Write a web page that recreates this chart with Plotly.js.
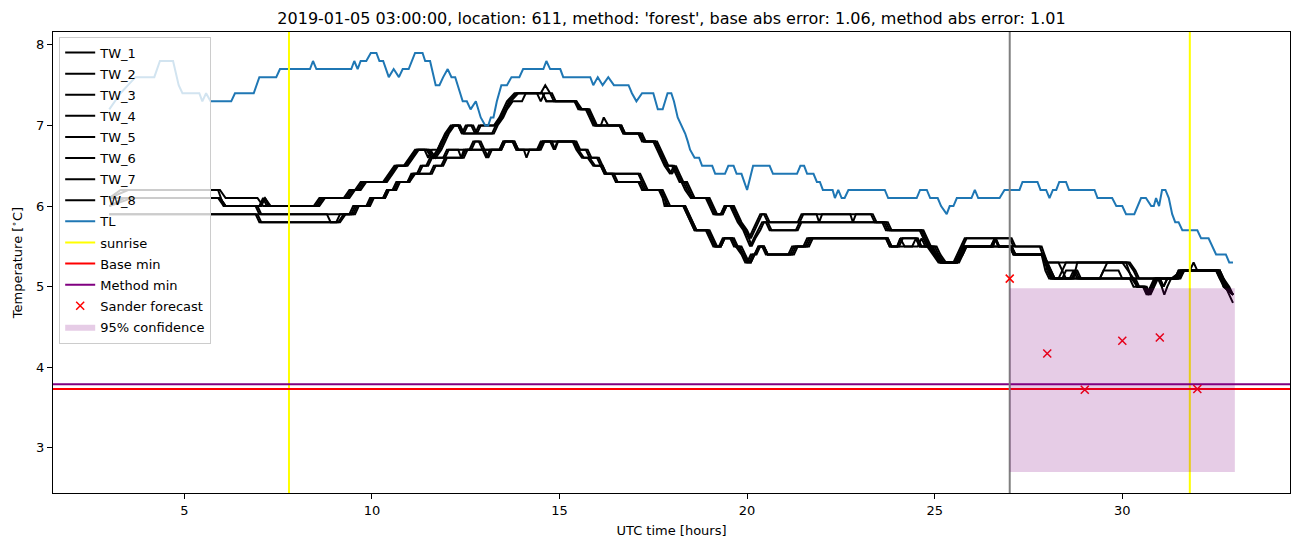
<!DOCTYPE html>
<html><head><meta charset="utf-8">
<script src="https://cdn.plot.ly/plotly-3.0.1.min.js"></script>
<style>html,body{margin:0;padding:0;background:#fff}#chart{width:1302px;height:547px}</style>
</head><body><div id="chart"></div>
<script>
// ---- data (hours UTC, temperature °C) ----
const TW_1 = [[3.0,6.1],[3.3,6.2],[5.95,6.2],[6.1,6.1],[6.95,6.1],[7.1,6.0],[8.45,6.0],[8.6,6.1],[9.25,6.1],[9.4,6.2],[9.55,6.2],[9.7,6.3],[10.3,6.3],[10.45,6.4],[10.6,6.5],[10.85,6.5],[11.0,6.6],[11.15,6.7],[11.45,6.7],[11.6,6.6],[11.75,6.7],[11.85,6.8],[11.95,6.9],[12.1,7.0],[12.3,7.0],[12.4,6.9],[12.5,7.0],[12.65,7.0],[12.75,6.9],[12.85,7.0],[13.25,7.0],[13.4,7.1],[13.5,7.2],[13.6,7.3],[13.8,7.4],[14.5,7.4],[14.62,7.5],[14.75,7.4],[14.85,7.3],[15.4,7.3],[15.55,7.2],[15.75,7.2],[15.85,7.1],[15.95,7.0],[16.1,7.0],[16.18,7.1],[16.3,7.0],[16.6,7.0],[16.7,6.9],[17.1,6.9],[17.2,6.8],[17.5,6.8],[17.6,6.7],[17.7,6.6],[17.8,6.5],[17.95,6.4],[18.05,6.5],[18.15,6.4],[18.25,6.3],[18.35,6.2],[18.5,6.1],[18.9,6.1],[19.0,6.0],[19.1,5.9],[19.3,5.9],[19.4,6.0],[19.6,6.0],[19.7,5.9],[19.8,5.8],[19.95,5.7],[20.05,5.6],[20.15,5.7],[20.25,5.8],[20.35,5.9],[20.45,5.9],[20.55,5.8],[21.35,5.8],[21.45,5.9],[21.85,5.9],[21.92,5.8],[22.0,5.9],[22.75,5.9],[22.82,5.8],[22.9,5.9],[23.35,5.9],[23.45,5.8],[23.7,5.8],[23.8,5.7],[24.65,5.7],[24.75,5.6],[24.85,5.5],[25.0,5.4],[25.15,5.3],[25.5,5.3],[25.6,5.4],[25.7,5.5],[25.8,5.6],[27.0,5.6],[27.1,5.5],[27.8,5.5],[27.95,5.3],[30.2,5.3],[30.35,5.2],[30.45,5.1],[30.95,5.1],[31.05,5.0],[31.12,4.9],[31.2,5.0],[31.3,5.1],[31.6,5.2],[31.8,5.2],[31.9,5.3],[32.0,5.2],[32.5,5.2],[32.6,5.1],[32.75,5.0],[32.95,4.8]];
const TW_2 = [[3.0,6.1],[3.5,6.2],[5.9,6.2],[6.05,6.0],[7.0,6.0],[7.15,6.1],[7.3,6.0],[8.5,6.0],[8.65,6.1],[9.3,6.1],[9.45,6.2],[9.6,6.2],[9.75,6.3],[10.35,6.3],[10.5,6.4],[10.65,6.5],[10.9,6.5],[11.05,6.6],[11.2,6.7],[11.4,6.7],[11.5,6.6],[11.6,6.7],[11.75,6.7],[11.85,6.8],[12.0,6.9],[12.15,7.0],[12.35,7.0],[12.45,6.9],[12.55,7.0],[12.7,7.0],[12.8,6.9],[12.9,7.0],[13.3,7.0],[13.45,7.1],[13.55,7.2],[13.65,7.3],[13.85,7.4],[14.4,7.4],[14.5,7.3],[14.6,7.4],[14.8,7.4],[14.9,7.3],[15.45,7.3],[15.6,7.2],[15.8,7.2],[15.9,7.1],[16.0,7.0],[16.65,7.0],[16.75,6.9],[17.15,6.9],[17.25,6.8],[17.55,6.8],[17.65,6.7],[17.75,6.6],[17.85,6.5],[18.0,6.4],[18.1,6.5],[18.2,6.4],[18.3,6.3],[18.4,6.2],[18.55,6.1],[18.95,6.1],[19.05,6.0],[19.15,5.9],[19.35,5.9],[19.45,6.0],[19.65,6.0],[19.75,5.9],[19.85,5.8],[20.0,5.7],[20.1,5.6],[20.2,5.7],[20.3,5.8],[20.4,5.9],[20.5,5.9],[20.6,5.8],[21.4,5.8],[21.5,5.9],[23.3,5.9],[23.4,5.8],[23.75,5.8],[23.85,5.7],[24.7,5.7],[24.8,5.6],[24.9,5.5],[25.05,5.4],[25.2,5.3],[25.55,5.3],[25.65,5.4],[25.75,5.5],[25.85,5.6],[27.05,5.6],[27.15,5.5],[27.85,5.5],[28.0,5.3],[28.3,5.3],[28.4,5.2],[28.5,5.1],[28.7,5.1],[28.8,5.3],[30.15,5.3],[30.3,5.2],[30.4,5.1],[31.0,5.1],[31.1,5.0],[31.2,5.1],[31.55,5.1],[31.65,5.2],[32.55,5.2],[32.65,5.1],[32.8,5.0],[32.95,4.9]];
const TW_3 = [[3.0,6.1],[5.95,6.1],[6.1,6.0],[7.0,6.0],[7.1,6.1],[7.2,6.0],[8.55,6.0],[8.7,6.1],[9.35,6.1],[9.5,6.2],[9.65,6.2],[9.8,6.3],[10.35,6.3],[10.5,6.4],[10.65,6.5],[10.9,6.5],[11.05,6.6],[11.2,6.7],[11.5,6.7],[11.65,6.6],[11.8,6.7],[11.9,6.8],[12.0,6.9],[12.15,7.0],[12.35,7.0],[12.45,6.9],[13.2,6.9],[13.3,7.0],[13.45,7.1],[13.55,7.2],[13.7,7.3],[13.9,7.4],[14.55,7.4],[14.65,7.3],[15.4,7.3],[15.5,7.2],[15.7,7.2],[15.8,7.1],[15.9,7.0],[16.6,7.0],[16.7,6.9],[17.15,6.9],[17.25,6.8],[17.55,6.8],[17.65,6.7],[17.75,6.6],[17.85,6.5],[18.0,6.5],[18.1,6.4],[18.2,6.3],[18.35,6.3],[18.45,6.2],[18.55,6.1],[18.95,6.1],[19.05,6.0],[19.15,5.9],[19.3,5.9],[19.4,6.0],[19.55,6.0],[19.65,5.9],[19.75,5.8],[19.9,5.7],[20.0,5.6],[20.08,5.5],[20.18,5.6],[20.3,5.7],[20.4,5.8],[20.5,5.8],[20.6,5.7],[21.3,5.7],[21.4,5.8],[23.6,5.8],[23.7,5.7],[24.6,5.7],[24.7,5.6],[24.8,5.5],[24.95,5.4],[25.1,5.3],[25.55,5.3],[25.65,5.4],[25.75,5.5],[26.5,5.5],[26.6,5.6],[26.7,5.5],[27.0,5.5],[27.1,5.4],[27.85,5.4],[27.95,5.3],[28.05,5.2],[28.15,5.1],[28.3,5.1],[28.4,5.2],[28.5,5.3],[30.0,5.3],[30.15,5.2],[30.3,5.1],[31.0,5.1],[31.1,5.0],[31.2,5.1],[31.5,5.1],[31.65,5.2],[32.6,5.2],[32.7,5.1],[32.85,5.0],[32.95,4.9]];
const TW_4 = [[3.0,6.0],[3.4,6.1],[5.95,6.1],[6.1,6.0],[7.05,6.0],[7.15,6.1],[7.25,6.0],[8.6,6.0],[8.75,6.1],[9.4,6.1],[9.55,6.2],[9.7,6.2],[9.85,6.3],[10.4,6.3],[10.55,6.4],[10.7,6.5],[10.95,6.5],[11.1,6.6],[11.25,6.7],[11.55,6.7],[11.7,6.6],[11.85,6.7],[11.95,6.8],[12.05,6.9],[12.2,7.0],[12.3,7.0],[12.4,6.9],[13.25,6.9],[13.35,7.0],[13.5,7.1],[13.6,7.2],[13.75,7.3],[14.0,7.3],[14.1,7.4],[14.55,7.4],[14.65,7.3],[15.45,7.3],[15.55,7.2],[15.75,7.2],[15.85,7.1],[15.95,7.0],[16.65,7.0],[16.75,6.9],[17.2,6.9],[17.3,6.8],[17.6,6.8],[17.7,6.7],[17.8,6.6],[17.9,6.5],[18.05,6.5],[18.15,6.4],[18.25,6.3],[18.4,6.3],[18.5,6.2],[18.6,6.1],[19.0,6.1],[19.1,6.0],[19.2,5.9],[19.35,5.9],[19.45,6.0],[19.6,6.0],[19.7,5.9],[19.8,5.8],[19.95,5.7],[20.05,5.6],[20.12,5.5],[20.22,5.6],[20.35,5.7],[20.45,5.8],[20.55,5.8],[20.65,5.7],[21.35,5.7],[21.45,5.8],[23.65,5.8],[23.75,5.7],[24.65,5.7],[24.75,5.6],[24.85,5.5],[25.0,5.4],[25.15,5.3],[25.6,5.3],[25.7,5.4],[25.8,5.5],[26.55,5.5],[26.62,5.6],[26.72,5.5],[27.05,5.5],[27.15,5.4],[27.9,5.4],[28.0,5.3],[28.1,5.2],[28.2,5.1],[29.4,5.1],[29.5,5.2],[29.6,5.3],[30.1,5.3],[30.25,5.1],[30.4,5.0],[30.6,5.0],[30.68,4.9],[30.78,5.0],[30.9,5.1],[31.4,5.1],[31.5,5.2],[32.6,5.2],[32.7,5.0],[32.95,4.9]];
const TW_5 = [[3.0,6.1],[5.95,6.1],[6.1,6.0],[6.9,6.0],[7.0,5.9],[9.4,5.9],[9.5,6.0],[9.85,6.0],[9.95,6.1],[10.3,6.1],[10.4,6.2],[10.55,6.2],[10.65,6.3],[10.95,6.3],[11.05,6.4],[11.2,6.4],[11.3,6.5],[11.45,6.5],[11.55,6.6],[11.9,6.6],[12.0,6.7],[12.3,6.7],[12.38,6.6],[12.45,6.7],[12.65,6.7],[12.75,6.8],[12.9,6.8],[13.0,6.7],[13.4,6.7],[13.5,6.8],[13.8,6.8],[13.9,6.7],[14.4,6.7],[14.5,6.8],[14.75,6.8],[14.85,6.7],[14.95,6.8],[15.4,6.8],[15.5,6.7],[15.7,6.7],[15.8,6.6],[16.0,6.6],[16.1,6.5],[16.2,6.4],[16.4,6.4],[16.5,6.3],[17.1,6.3],[17.2,6.2],[17.7,6.2],[17.8,6.1],[17.9,6.0],[18.3,6.0],[18.4,5.9],[18.5,5.8],[18.6,5.7],[18.95,5.7],[19.05,5.6],[19.15,5.5],[19.3,5.5],[19.4,5.6],[19.6,5.6],[19.7,5.5],[19.85,5.4],[19.95,5.3],[20.1,5.3],[20.2,5.4],[20.3,5.5],[20.45,5.5],[20.55,5.4],[21.1,5.4],[21.2,5.5],[21.5,5.5],[21.6,5.6],[23.7,5.6],[23.8,5.5],[24.0,5.5],[24.08,5.6],[24.2,5.5],[24.4,5.5],[24.5,5.6],[24.6,5.5],[24.9,5.5],[25.0,5.4],[25.15,5.3],[25.55,5.3],[25.7,5.4],[25.8,5.5],[26.5,5.5],[26.6,5.6],[26.7,5.5],[27.0,5.5],[27.1,5.4],[27.85,5.4],[27.95,5.3],[28.05,5.2],[28.1,5.1],[28.4,5.1],[28.5,5.2],[28.8,5.2],[28.9,5.1],[29.4,5.1],[29.5,5.2],[29.9,5.2],[30.0,5.1],[30.2,5.1],[30.3,5.0],[30.6,5.0],[30.7,4.9],[30.8,5.0],[30.9,5.1],[31.5,5.1],[31.6,5.2],[32.5,5.2],[32.6,5.1],[32.7,5.0],[32.95,4.9]];
const TW_6 = [[3.0,6.0],[3.6,6.1],[5.9,6.1],[6.05,6.0],[6.95,6.0],[7.05,5.9],[8.8,5.9],[8.9,5.8],[9.05,5.8],[9.15,5.9],[9.45,5.9],[9.55,6.0],[9.9,6.0],[10.0,6.1],[10.35,6.1],[10.45,6.2],[10.6,6.2],[10.7,6.3],[11.0,6.3],[11.1,6.4],[11.25,6.4],[11.35,6.5],[11.5,6.5],[11.6,6.6],[11.95,6.6],[12.05,6.7],[12.6,6.7],[12.7,6.8],[12.85,6.8],[12.95,6.7],[13.45,6.7],[13.55,6.8],[13.75,6.8],[13.85,6.7],[14.45,6.7],[14.55,6.8],[15.45,6.8],[15.55,6.7],[15.75,6.7],[15.85,6.6],[16.05,6.6],[16.15,6.5],[16.25,6.4],[16.45,6.4],[16.55,6.3],[17.15,6.3],[17.25,6.2],[17.75,6.2],[17.85,6.1],[17.95,6.0],[18.35,6.0],[18.45,5.9],[18.55,5.8],[18.65,5.7],[19.0,5.7],[19.1,5.6],[19.2,5.5],[19.3,5.5],[19.4,5.6],[19.65,5.6],[19.75,5.5],[19.9,5.4],[20.0,5.3],[20.1,5.3],[20.2,5.4],[20.35,5.5],[20.45,5.5],[20.55,5.4],[21.15,5.4],[21.25,5.5],[21.55,5.5],[21.65,5.6],[23.75,5.6],[23.85,5.5],[24.55,5.5],[24.65,5.6],[24.75,5.5],[24.95,5.5],[25.05,5.4],[25.2,5.3],[25.6,5.3],[25.75,5.4],[25.85,5.5],[27.05,5.5],[27.15,5.4],[27.9,5.4],[28.0,5.3],[28.1,5.2],[28.2,5.1],[30.3,5.1],[30.4,5.0],[30.55,5.0],[30.65,4.9],[30.75,5.0],[30.85,5.1],[31.45,5.1],[31.55,5.2],[32.55,5.2],[32.65,5.1],[32.8,5.0],[32.95,4.9]];
const TW_7 = [[3.0,5.9],[6.0,5.9],[6.9,5.9],[7.0,5.8],[9.1,5.8],[9.25,5.9],[9.5,5.9],[9.6,6.0],[9.9,6.0],[10.0,6.1],[10.3,6.1],[10.4,6.2],[10.6,6.2],[10.7,6.3],[10.95,6.3],[11.1,6.4],[11.55,6.4],[11.65,6.5],[11.85,6.5],[11.95,6.6],[12.4,6.6],[12.5,6.7],[12.95,6.7],[13.05,6.6],[13.15,6.7],[13.4,6.7],[13.5,6.8],[13.75,6.8],[13.85,6.7],[14.05,6.7],[14.12,6.6],[14.2,6.7],[14.45,6.7],[14.55,6.8],[15.35,6.8],[15.45,6.7],[15.6,6.6],[15.75,6.6],[15.9,6.5],[16.1,6.5],[16.2,6.4],[17.1,6.4],[17.2,6.3],[17.3,6.2],[17.65,6.2],[17.75,6.1],[17.8,6.0],[18.3,6.0],[18.4,5.9],[18.5,5.8],[18.6,5.7],[18.9,5.7],[19.0,5.6],[19.1,5.5],[19.25,5.5],[19.35,5.6],[19.55,5.6],[19.65,5.5],[19.8,5.5],[19.9,5.4],[20.0,5.3],[20.1,5.4],[20.2,5.4],[20.3,5.5],[20.4,5.5],[20.5,5.4],[21.2,5.4],[21.3,5.5],[21.6,5.5],[21.7,5.6],[23.7,5.6],[23.8,5.5],[24.0,5.5],[24.1,5.6],[24.5,5.6],[24.6,5.5],[25.0,5.5],[25.1,5.4],[25.25,5.3],[25.6,5.3],[25.7,5.4],[25.8,5.5],[27.0,5.5],[27.1,5.4],[27.85,5.4],[27.95,5.2],[28.05,5.1],[28.6,5.1],[28.7,5.2],[28.8,5.1],[30.3,5.1],[30.4,5.0],[30.6,5.0],[30.7,4.9],[30.8,5.0],[30.9,5.1],[31.4,5.1],[31.5,5.2],[32.55,5.2],[32.65,5.1],[32.75,5.0],[32.95,4.9]];
const TW_8 = [[3.0,5.9],[6.05,5.9],[6.95,5.9],[7.05,5.8],[9.15,5.8],[9.3,5.9],[9.55,5.9],[9.65,6.0],[9.95,6.0],[10.05,6.1],[10.35,6.1],[10.45,6.2],[10.65,6.2],[10.75,6.3],[11.0,6.3],[11.15,6.4],[11.6,6.4],[11.7,6.5],[11.9,6.5],[12.0,6.6],[12.45,6.6],[12.55,6.7],[13.0,6.7],[13.1,6.6],[13.2,6.7],[13.45,6.7],[13.55,6.8],[13.8,6.8],[13.9,6.7],[14.5,6.7],[14.6,6.8],[14.8,6.8],[14.88,6.7],[14.96,6.8],[15.4,6.8],[15.5,6.7],[15.65,6.6],[15.8,6.6],[15.95,6.5],[16.15,6.5],[16.25,6.4],[17.15,6.4],[17.25,6.3],[17.35,6.2],[17.7,6.2],[17.8,6.1],[17.85,6.0],[18.35,6.0],[18.45,5.9],[18.55,5.8],[18.65,5.7],[18.95,5.7],[19.05,5.6],[19.15,5.5],[19.3,5.5],[19.4,5.6],[19.6,5.6],[19.7,5.5],[19.85,5.5],[19.95,5.4],[20.05,5.3],[20.15,5.4],[20.25,5.4],[20.35,5.5],[20.45,5.5],[20.55,5.4],[21.25,5.4],[21.35,5.5],[21.65,5.5],[21.75,5.6],[23.75,5.6],[23.85,5.5],[24.05,5.5],[24.15,5.6],[24.55,5.6],[24.65,5.5],[25.05,5.5],[25.15,5.4],[25.3,5.3],[25.65,5.3],[25.75,5.4],[25.85,5.5],[26.55,5.5],[26.63,5.6],[26.72,5.5],[27.05,5.5],[27.15,5.4],[27.9,5.4],[28.0,5.2],[28.1,5.1],[28.65,5.1],[28.75,5.2],[28.85,5.1],[30.35,5.1],[30.45,5.0],[30.65,5.0],[30.75,4.9],[30.85,5.0],[30.95,5.1],[31.45,5.1],[31.55,5.2],[32.6,5.2],[32.7,5.1],[32.8,5.0],[32.95,4.9]];
const TL = [[3.0,7.2],[3.15,7.3],[3.3,7.4],[3.5,7.5],[3.7,7.6],[4.2,7.6],[4.35,7.8],[4.7,7.8],[4.85,7.5],[4.95,7.4],[5.4,7.4],[5.48,7.3],[5.58,7.4],[5.7,7.3],[6.25,7.3],[6.35,7.4],[6.85,7.4],[7.0,7.6],[7.45,7.6],[7.55,7.7],[8.35,7.7],[8.43,7.8],[8.52,7.7],[9.45,7.7],[9.53,7.8],[9.62,7.7],[9.7,7.8],[9.85,7.8],[9.97,7.9],[10.12,7.9],[10.2,7.8],[10.3,7.8],[10.45,7.6],[10.58,7.7],[10.72,7.6],[10.82,7.7],[10.98,7.7],[11.15,7.9],[11.35,7.9],[11.42,7.8],[11.55,7.8],[11.7,7.5],[11.8,7.5],[11.9,7.6],[12.02,7.7],[12.12,7.6],[12.22,7.6],[12.42,7.3],[12.53,7.3],[12.63,7.2],[12.77,7.3],[12.9,7.1],[13.02,7.0],[13.1,7.0],[13.17,7.1],[13.24,7.1],[13.33,7.3],[13.45,7.5],[13.6,7.5],[13.72,7.6],[13.93,7.6],[14.03,7.7],[14.57,7.7],[14.65,7.8],[14.75,7.7],[15.02,7.7],[15.1,7.6],[15.82,7.6],[15.9,7.5],[16.02,7.6],[16.15,7.5],[16.3,7.6],[16.45,7.5],[16.84,7.5],[16.93,7.4],[17.05,7.3],[17.2,7.4],[17.5,7.4],[17.62,7.2],[17.75,7.2],[17.88,7.4],[17.98,7.4],[18.05,7.3],[18.15,7.1],[18.25,7.0],[18.35,6.9],[18.42,6.8],[18.48,6.7],[18.6,6.6],[18.72,6.6],[18.8,6.5],[19.07,6.5],[19.15,6.4],[19.41,6.4],[19.5,6.5],[19.64,6.5],[19.72,6.4],[19.85,6.4],[20.0,6.2],[20.16,6.5],[20.6,6.5],[20.69,6.4],[21.33,6.4],[21.42,6.5],[21.52,6.5],[21.6,6.4],[21.77,6.4],[21.86,6.3],[21.94,6.3],[22.02,6.2],[22.28,6.2],[22.34,6.1],[22.43,6.2],[22.52,6.1],[22.6,6.1],[22.7,6.2],[23.67,6.2],[23.76,6.1],[24.52,6.1],[24.61,6.2],[24.79,6.2],[24.88,6.1],[25.08,6.1],[25.17,6.0],[25.32,5.9],[25.4,6.0],[25.5,6.0],[25.59,6.1],[25.98,6.1],[26.07,6.2],[26.16,6.1],[26.73,6.1],[26.86,6.2],[27.26,6.2],[27.34,6.3],[27.74,6.3],[27.82,6.2],[27.97,6.2],[28.06,6.1],[28.15,6.2],[28.24,6.2],[28.32,6.3],[28.5,6.3],[28.58,6.2],[29.26,6.2],[29.34,6.1],[29.73,6.1],[29.84,6.0],[30.0,6.0],[30.1,5.9],[30.32,5.9],[30.5,6.1],[30.63,6.1],[30.77,6.0],[30.84,6.0],[30.9,6.1],[30.98,6.0],[31.06,6.2],[31.15,6.2],[31.24,6.1],[31.33,5.9],[31.41,5.8],[31.5,5.8],[31.6,5.7],[32.0,5.7],[32.1,5.6],[32.3,5.6],[32.5,5.4],[32.76,5.4],[32.85,5.3],[32.95,5.3]];
const sunriseTimes = [7.79, 31.80];
const forecastTime = 27.0;
const baseMin = 3.73;
const methodMin = 3.79;
const forecastHours = [27, 28, 29, 30, 31, 32];
const forecastValues = [5.10, 4.17, 3.72, 4.33, 4.37, 3.73];
const confHours = [27.0, 33.0];
const confBounds = [2.70, 4.98];
const twNames = ['TW_1','TW_2','TW_3','TW_4','TW_5','TW_6','TW_7','TW_8'];
const twSeries = [TW_1, TW_2, TW_3, TW_4, TW_5, TW_6, TW_7, TW_8];
const titleText = "2019-01-05 03:00:00, location: 611, method: 'forest', base abs error: 1.06, method abs error: 1.01";

// ---- axes ranges (matplotlib-like 5% margins) ----
const xRange = [1.5, 34.47];
const yRange = [2.44, 8.16];

const traces = [];
twSeries.forEach((s, i) => {
  traces.push({x: s.map(p => p[0]), y: s.map(p => p[1]), type: 'scatter', mode: 'lines',
    name: twNames[i], legendgroup: twNames[i], line: {color: '#000000', width: 2}});
});
traces.push({x: TL.map(p => p[0]), y: TL.map(p => p[1]), type: 'scatter', mode: 'lines',
  name: 'TL', legendgroup: 'TL', line: {color: '#1f77b4', width: 2}});
// sunrise vertical lines
const sx = [], sy = [];
sunriseTimes.forEach((t, i) => { if (i) { sx.push(null); sy.push(null); } sx.push(t, t); sy.push(yRange[0], yRange[1]); });
traces.push({x: sx, y: sy, type: 'scatter', mode: 'lines', name: 'sunrise', legendgroup: 'sunrise', line: {color: '#ffff00', width: 2}});
traces.push({x: xRange, y: [baseMin, baseMin], type: 'scatter', mode: 'lines', name: 'Base min', legendgroup: 'base', line: {color: '#ff0000', width: 2}});
traces.push({x: xRange, y: [methodMin, methodMin], type: 'scatter', mode: 'lines', name: 'Method min', legendgroup: 'method', line: {color: '#800080', width: 2}});
traces.push({x: [forecastTime, forecastTime], y: yRange, type: 'scatter', mode: 'lines', showlegend: false,
  line: {color: '#808080', width: 2}, hoverinfo: 'skip'});
traces.push({x: forecastHours, y: forecastValues, type: 'scatter', mode: 'markers', name: 'Sander forecast', legendgroup: 'sander',
  marker: {symbol: 'x-thin', size: 8, line: {color: '#ff0000', width: 1.5}, color: '#ff0000'}});
traces.push({x: [confHours[0], confHours[1], confHours[1], confHours[0], confHours[0]],
  y: [confBounds[0], confBounds[0], confBounds[1], confBounds[1], confBounds[0]],
  type: 'scatter', mode: 'lines', fill: 'toself', fillcolor: 'rgba(128,0,128,0.2)', legendgroup: 'conf',
  line: {width: 0, color: 'rgba(128,0,128,0.2)'}, name: '95% confidence'});

const font = {family: 'DejaVu Sans, sans-serif', size: 13, color: '#000'};
const layout = {
  width: 1302, height: 547,
  margin: {l: 53, r: 12, t: 32, b: 54},
  paper_bgcolor: '#fff', plot_bgcolor: '#fff',
  font: font,
  title: {text: titleText, font: {family: 'DejaVu Sans, sans-serif', size: 16, color: '#000'},
    x: 0.5, xref: 'paper', y: 1 - 18/547, yref: 'container', yanchor: 'middle'},
  xaxis: {range: xRange, tick0: 0, dtick: 5, ticks: 'outside', ticklen: 5, tickwidth: 1, tickcolor: '#000',
    showgrid: false, zeroline: false, showline: true, mirror: true, linecolor: '#000', linewidth: 1,
    tickfont: font, title: {text: 'UTC time [hours]', font: font, standoff: 9}},
  yaxis: {range: yRange, tick0: 0, dtick: 1, ticks: 'outside', ticklen: 5, tickwidth: 1, tickcolor: '#000',
    showgrid: false, zeroline: false, showline: true, mirror: true, linecolor: '#000', linewidth: 1,
    tickfont: font, title: {text: 'Temperature [<sup>∘</sup>C]', font: font, standoff: 10}},
  legend: {x: 0.005, y: 0.99, xanchor: 'left', yanchor: 'top', bgcolor: 'rgba(255,255,255,0.8)',
    bordercolor: '#cccccc', borderwidth: 1, font: font, tracegroupgap: 1.2},
  showlegend: true
};
Plotly.newPlot('chart', traces, layout, {staticPlot: true, displayModeBar: false});
</script>
</body></html>
